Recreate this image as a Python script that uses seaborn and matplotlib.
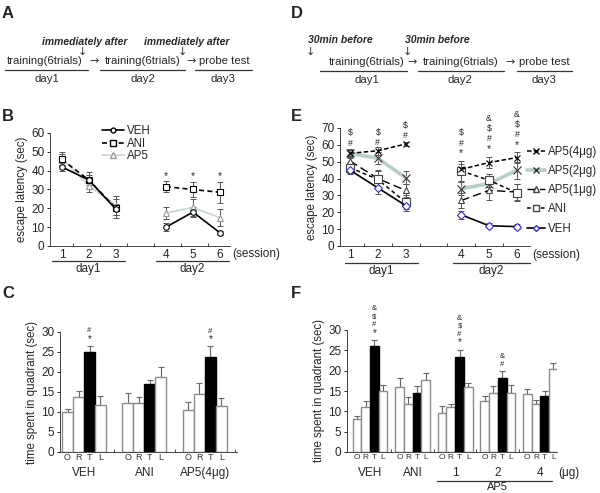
import numpy as np
import pandas as pd
import matplotlib
matplotlib.use("Agg")
import matplotlib.pyplot as plt
import seaborn as sns
from matplotlib.lines import Line2D

sns.set_style("ticks")
plt.rcParams['font.family'] = ['Liberation Sans', 'DejaVu Sans']

# ---------------- data ----------------
session_labels = ["1", "2", "3", "4", "5", "6"]

# panel B: escape latency (sec), mean and sem
b_veh = [42, 35, 19.5, 10, 18, 7]
b_veh_err = [2, 2.5, 3, 2, 2.5, 1]
b_ani = [46, 35, 20, 31.5, 30, 28.5]
b_ani_err = [3, 4.5, 5, 3, 4, 5.5]
b_ap5 = [46.5, 32, 21.5, 17.5, 20.5, 15]
b_ap5_err = [3.5, 3.5, 5, 3, 4.5, 4.5]
b_marks = [[], [], [], ["*"], ["*"], ["*"]]

# panel E
e_ap5_4 = [55, 56.5, 60.5, 45.5, 49.5, 52.5]
e_ap5_4_err = [2, 2.5, 1, 3, 3.5, 3]
e_ap5_2 = [55, 52, 40.5, 34, 37, 45]
e_ap5_2_err = [2.5, 3.5, 4, 4, 3.5, 5]
e_ap5_1 = [50.5, 40, 33, 27, 33, 32]
e_ap5_1_err = [3, 5, 4, 4.5, 5.5, 5]
e_ani = [46.5, 39.5, 26, 44.5, 39, 31.5]
e_ani_err = [3, 5, 4, 6, 4, 5]
e_veh = [45, 34.5, 24, 18.5, 12, 11.5]
e_veh_err = [2, 3.5, 3, 2.5, 1.5, 1.5]
e_marks = [["#", "$"], ["#", "$"], ["#", "$"], ["*", "#", "$"],
           ["*", "#", "$", "&"], ["*", "#", "$", "&"]]
e_mark_base = [61, 61.5, 65.5, 55, 57.5, 60]

# panel C: time spent in quadrant (sec)
quadrants = ["O", "R", "T", "L"]
c_groups = ["VEH", "ANI", "AP5(4μg)"]
c_O = [10, 12.3, 10.4]
c_O_err = [0.7, 2.4, 2]
c_R = [13.7, 12.2, 14.6]
c_R_err = [1.5, 1.5, 2.6]
c_T = [25, 16.9, 23.7]
c_T_err = [1.5, 1, 2.7]
c_L = [11.7, 18.7, 11.4]
c_L_err = [2.3, 2.5, 2]
c_marks = {0: ["*", "#"], 2: ["*", "#"]}

# panel F
f_groups = ["VEH", "ANI", "1", "2", "4"]
f_O = [8, 16.1, 9.7, 12.6, 14.3]
f_O_err = [0.8, 2.1, 1.5, 1.2, 1.3]
f_R = [11, 11.9, 11.1, 14.5, 11.7]
f_R_err = [1.5, 1.6, 0.7, 1.7, 1]
f_T = [26, 14.5, 23.3, 18.3, 13.8]
f_T_err = [1.6, 1.8, 1.9, 1.5, 1.3]
f_L = [15.1, 17.6, 16, 14.6, 20.3]
f_L_err = [1.4, 1.8, 1, 1.9, 1.6]
f_marks = {0: ["*", "#", "$", "&"], 2: ["*", "#", "$", "&"], 3: ["#", "&"]}

# ---------------- figure ----------------
W, H = 600, 493
fig = plt.figure(figsize=(6.0, 4.93), dpi=100)


def fx(x):
    return x / W


def fy(y):
    return 1 - y / H


def ftext(x, y, s, **kw):
    kw.setdefault("fontsize", 8.2)
    kw.setdefault("ha", "center")
    kw.setdefault("va", "center")
    fig.text(fx(x), fy(y), s, **kw)


def fline(x0, x1, y, lw=0.9, color="#333333"):
    fig.add_artist(Line2D([fx(x0), fx(x1)], [fy(y), fy(y)],
                          transform=fig.transFigure, color=color, lw=lw))


# panel letters
for lab, x, y in [("A", 2, 6), ("B", 2, 109), ("C", 2, 286),
                  ("D", 291, 6), ("E", 291, 109), ("F", 291, 286)]:
    fig.text(fx(x), fy(y), lab, fontsize=12, fontweight="bold", va="top", ha="left")

# protocol A
bi = dict(fontsize=7.5, fontweight="bold", fontstyle="italic")
arr = dict(fontsize=8, family="DejaVu Sans", color="#333333")
ftext(85, 42, "immediately after", **bi)
ftext(187, 42, "immediately after", **bi)
ftext(82, 52, "↓", **arr)
ftext(182, 52, "↓", **arr)
ftext(45, 61, "training(6trials)")
ftext(94, 61, "→", **arr)
ftext(143, 61, "training(6trials)")
ftext(191, 61, "→", **arr)
ftext(224, 61, "probe test")
fline(5, 88, 70)
fline(100, 185, 70)
fline(195, 252, 70)
ftext(47, 79, "day1")
ftext(143, 79, "day2")
ftext(223, 79, "day3")

# protocol D
ftext(340, 40, "30min before", **bi)
ftext(437, 40, "30min before", **bi)
ftext(310, 52, "↓", **arr)
ftext(407, 52, "↓", **arr)
ftext(367, 62, "training(6trials)")
ftext(412, 62, "→", **arr)
ftext(461, 62, "training(6trials)")
ftext(510, 62, "→", **arr)
ftext(544, 62, "probe test")
fline(320, 407, 71)
fline(418, 504, 71)
fline(517, 572, 71)
ftext(367, 80, "day1")
ftext(460, 80, "day2")
ftext(544, 80, "day3")


def draw_latency(ax, xpos, series, marks, mark_base, mark_step):
    for s in series:
        for day in (slice(0, 3), slice(3, 6)):
            x = xpos[day]
            y = s["y"][day]
            ax.errorbar(x, y, yerr=s["err"][day], fmt="none", ecolor="#555555",
                        elinewidth=0.7, capsize=2, capthick=0.7, zorder=1)
            sns.lineplot(x=x, y=y, ax=ax, color=s["color"], linestyle=s["ls"],
                         linewidth=s["lw"], marker=s["marker"], markersize=s["ms"],
                         markerfacecolor=s["mfc"], markeredgecolor=s["mec"],
                         markeredgewidth=0.8, errorbar=None, zorder=s["z"])
    for i, (sym, base) in enumerate(zip(marks, mark_base)):
        for k, m in enumerate(sym):
            ax.annotate(m, (xpos[i], base), xytext=(0, k * mark_step),
                        textcoords="offset points", ha="center", va="center",
                        fontsize=7.5 if m == "*" else 6.3, color="#222222",
                        annotation_clip=False)


def style_latency(ax, xpos, ylim, ystep, xlim, days_x, lab_y):
    ax.set_ylim(*ylim)
    ax.set_xlim(*xlim)
    ax.set_yticks(np.arange(ylim[0], ylim[1] + 1, ystep))
    ax.set_xticks(xpos)
    ax.set_xticklabels(session_labels)
    ax.tick_params(axis="x", length=0, pad=2, labelsize=8.5)
    ax.tick_params(axis="y", length=2.5, width=0.7, pad=1.5, labelsize=8.5)
    sns.despine(ax=ax)
    for sp in ax.spines.values():
        sp.set_linewidth(0.7)
        sp.set_color("#444444")
    ax.set_ylabel("escape latency (sec)", fontsize=8.3, labelpad=2)
    ax.set_xlabel("")
    tr = ax.get_xaxis_transform()
    for (x0, x1), name in zip(days_x, ["day1", "day2"]):
        ax.plot([x0, x1], [lab_y, lab_y], transform=tr, color="#333333",
                lw=0.9, clip_on=False)
        ax.text((x0 + x1) / 2, lab_y - 0.07, name, transform=tr, ha="center",
                va="center", fontsize=8.5)
    ax.text(1.01, -0.075, "(session)", transform=ax.transAxes, ha="left",
            va="center", fontsize=8.5)


# ---------------- panel B ----------------
axB = fig.add_axes([fx(50), fy(246), 180 / W, 113 / H])
b_pos = np.array([1, 2, 3, 4.85, 5.85, 6.85])
b_series = [
    dict(name="VEH", y=np.array(b_veh), err=np.array(b_veh_err), color="black", ls="-",
         lw=1.2, marker="o", ms=4, mfc="white", mec="black", z=4),
    dict(name="ANI", y=np.array(b_ani), err=np.array(b_ani_err), color="black",
         ls=(0, (3, 2)), lw=1.2, marker="s", ms=4.5, mfc="white", mec="black", z=3),
    dict(name="AP5", y=np.array(b_ap5), err=np.array(b_ap5_err), color="#c4d6ce",
         ls="-", lw=1.2, marker="^", ms=4.5, mfc="white", mec="#999999", z=2),
]
draw_latency(axB, b_pos, b_series, b_marks, [37] * 6, 0)
style_latency(axB, b_pos, (0, 60), 10, (0.56, 7.22),
              [(0.63, 3.33), (4.48, 7.18)], -0.133)
axB.set_xticks(np.arange(1.4, 7.0, 1.0), minor=True)
axB.tick_params(axis="x", which="minor", direction="in", length=2.5, width=0.6)
hB = [Line2D([], [], color=s["color"], ls=s["ls"], lw=s["lw"], marker=s["marker"],
             ms=s["ms"] - 0.5, mfc=s["mfc"], mec=s["mec"]) for s in b_series]
axB.legend(hB, [s["name"] for s in b_series], loc="upper left",
           bbox_to_anchor=(fx(102), fy(125)), bbox_transform=fig.transFigure,
           frameon=False, fontsize=8.3, handlelength=1.9, handletextpad=0.3,
           labelspacing=0.05, borderpad=0, borderaxespad=0)

# ---------------- panel E ----------------
axE = fig.add_axes([fx(340), fy(246), 190 / W, 118 / H])
e_pos = np.array([1, 2, 3, 5, 6, 7])
e_series = [
    dict(name="AP5(4μg)", y=np.array(e_ap5_4), err=np.array(e_ap5_4_err), color="black",
         ls=(0, (3, 1.5)), lw=1.1, marker="x", ms=5, mfc="black", mec="black", z=5),
    dict(name="AP5(2μg)", y=np.array(e_ap5_2), err=np.array(e_ap5_2_err), color="#b9cec7",
         ls="-", lw=2.6, marker="x", ms=6, mfc="#333333", mec="#333333", z=2),
    dict(name="AP5(1μg)", y=np.array(e_ap5_1), err=np.array(e_ap5_1_err), color="black",
         ls=(0, (6, 3)), lw=1.0, marker="^", ms=5, mfc="white", mec="#444444", z=3),
    dict(name="ANI", y=np.array(e_ani), err=np.array(e_ani_err), color="black",
         ls=(0, (2.5, 2)), lw=1.1, marker="s", ms=5.5, mfc="white", mec="#444444", z=4),
    dict(name="VEH", y=np.array(e_veh), err=np.array(e_veh_err), color="black",
         ls="-", lw=1.2, marker="D", ms=4, mfc="white", mec="#3030d0", z=6),
]
draw_latency(axE, e_pos, e_series, e_marks, e_mark_base, 7.4)
style_latency(axE, e_pos, (0, 70), 10, (0.64, 7.47),
              [(0.82, 3.45), (4.7, 7.47)], -0.144)
axE.set_xticks(np.arange(1.5, 7.0, 1.0), minor=True)
axE.tick_params(axis="x", which="minor", direction="in", length=2.5, width=0.6)
hE = [Line2D([], [], color=s["color"], ls=s["ls"], lw=s["lw"], marker=s["marker"],
             ms=s["ms"] - 1, mfc=s["mfc"], mec=s["mec"]) for s in e_series]
axE.legend(hE, [s["name"] for s in e_series], loc="upper left",
           bbox_to_anchor=(fx(527), fy(146)), bbox_transform=fig.transFigure,
           frameon=False, fontsize=8.3, handlelength=1.6, handletextpad=0.25,
           labelspacing=0.62, borderpad=0, borderaxespad=0)


# ---------------- bar panels ----------------
def draw_bars(ax, groups, vals, errs, width, marks, mark_step, letter_size):
    rows = []
    for q, v in zip(quadrants, vals):
        for g, val in zip(groups, v):
            rows.append({"group": g, "quadrant": q, "time": val})
    df = pd.DataFrame(rows)
    pal = {"O": "white", "R": "white", "T": "black", "L": "white"}
    sns.barplot(data=df, x="group", y="time", hue="quadrant", order=groups,
                hue_order=quadrants, palette=pal, width=width, errorbar=None,
                linewidth=1.0, legend=False, ax=ax, zorder=2)
    tr = ax.get_xaxis_transform()
    bar_conts = list(ax.containers)
    for qi, cont in enumerate(bar_conts):
        for gi, bar in enumerate(cont):
            bar.set_edgecolor("black" if quadrants[qi] == "T" else "#8c8c8c")
            cx = bar.get_x() + bar.get_width() / 2
            top = bar.get_height()
            ax.errorbar([cx], [top], yerr=[[0], [errs[qi][gi]]], fmt="none",
                        ecolor="#666666", elinewidth=0.8, capsize=2, capthick=0.8,
                        zorder=1)
            ax.text(cx, -0.042, quadrants[qi], transform=tr, ha="center", va="center",
                    fontsize=letter_size, color="#333333")
            if quadrants[qi] == "T" and gi in marks:
                for k, m in enumerate(marks[gi]):
                    ax.annotate(m, (cx, top + errs[qi][gi]), xytext=(0, 5 + k * mark_step),
                                textcoords="offset points", ha="center", va="center",
                                fontsize=7 if m == "*" else 5.5, color="#222222",
                                annotation_clip=False)
    ax.set_ylim(0, 30)
    ax.set_yticks(np.arange(0, 31, 5))
    ax.set_xticks(range(len(groups)))
    ax.set_xticklabels(groups)
    ax.set_xticks(np.arange(0.5, len(groups), 1.0), minor=True)
    ax.tick_params(axis="x", which="major", length=0, pad=10.5, labelsize=8.5)
    ax.tick_params(axis="x", which="minor", direction="in", length=2.5, width=0.6)
    ax.tick_params(axis="y", length=2.5, width=0.7, pad=1.5, labelsize=8.5)
    ax.set_xlabel("")
    ax.set_ylabel("time spent in quadrant (sec)", fontsize=8.3, labelpad=2)
    sns.despine(ax=ax)
    for sp in ax.spines.values():
        sp.set_linewidth(0.7)
        sp.set_color("#444444")


axC = fig.add_axes([fx(60), fy(452), 177 / W, 120 / H])
draw_bars(axC, c_groups, [c_O, c_R, c_T, c_L], [c_O_err, c_R_err, c_T_err, c_L_err],
          0.727, c_marks, 5.8, 6.5)
axC.set_xlim(-0.397, 2.53)

axF = fig.add_axes([fx(347), fy(452), 210 / W, 122 / H])
draw_bars(axF, f_groups, [f_O, f_R, f_T, f_L], [f_O_err, f_R_err, f_T_err, f_L_err],
          0.82, f_marks, 5.8, 6)
axF.set_xlim(-0.54, 4.39)
trF = axF.get_xaxis_transform()
axF.plot([1.57, 4.27], [-0.235, -0.235], transform=trF, color="#333333", lw=0.9,
         clip_on=False)
axF.text(3, -0.285, "AP5", transform=trF, ha="center", va="center", fontsize=8)
axF.text(1.005, -0.172, "(μg)", transform=axF.transAxes, ha="left", va="center",
         fontsize=8.5)

fig.savefig("out.png", dpi=100, facecolor="white")
